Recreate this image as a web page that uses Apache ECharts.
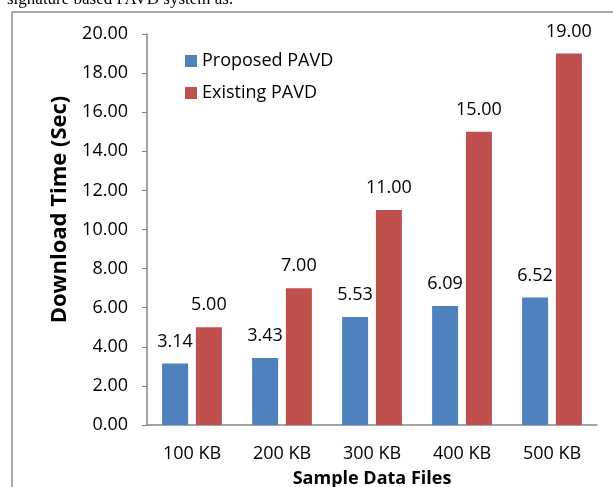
<!DOCTYPE html>
<html><head><meta charset="utf-8">
<script src="https://cdn.jsdelivr.net/npm/echarts@6/dist/echarts.min.js"></script>
<style>html,body{margin:0;padding:0;background:#fff}#c{width:613px;height:487px}</style>
</head><body><div id="c"></div>
<script>
const categories = ['100 KB','200 KB','300 KB','400 KB','500 KB'];
const proposed = [3.14, 3.43, 5.53, 6.09, 6.52];
const existing = [5.00, 7.00, 11.00, 15.00, 19.00];
const seriesNames = ['Proposed PAVD','Existing PAVD'];
const yTitle = 'Download Time (Sec)';
const xTitle = 'Sample Data Files';
const caption = 'signature based PAVD system as.';

const FONT = 'Open Sans';
const chart = echarts.init(document.getElementById('c'), null, {renderer:'canvas'});
const lbl = {show:true, position:'top', distance:13, color:'#000', fontFamily:FONT, fontSize:18,
  formatter: p => p.value.toFixed(2)};
chart.setOption({
  animation:false,
  backgroundColor:'#fff',
  graphic:[
    {type:'text', left:7, top:-9, style:{text:caption, fontFamily:'Liberation Serif', fontSize:17, fill:'#000'}},
    {type:'line', shape:{x1:12, y1:12, x2:613, y2:12}, style:{stroke:'#8c8c8c', lineWidth:1.5}},
    {type:'line', shape:{x1:12, y1:12, x2:12, y2:487}, style:{stroke:'#8c8c8c', lineWidth:1.5}}
  ],
  legend:{orient:'vertical', left:185, top:52, padding:0, itemWidth:12, itemHeight:12, itemGap:14,
    icon:'rect', textStyle:{fontFamily:FONT, fontSize:18, color:'#000'}, data:seriesNames},
  grid:{left:147, right:16, top:34, bottom:62, outerBoundsMode:'none', containLabel:false},
  xAxis:{type:'category', data:categories,
    axisLine:{lineStyle:{color:'#868686', width:1.5}}, axisTick:{show:false},
    axisLabel:{color:'#000', fontFamily:FONT, fontSize:18, margin:20},
    name:xTitle, nameLocation:'middle', nameGap:45,
    nameTextStyle:{fontFamily:FONT, fontSize:18, fontWeight:'bold', color:'#000'}},
  yAxis:{type:'value', min:0, max:20, interval:2,
    axisLine:{show:true, lineStyle:{color:'#868686', width:1.5}},
    axisTick:{show:true, length:5, lineStyle:{color:'#868686'}},
    splitLine:{show:false},
    axisLabel:{color:'#000', fontFamily:FONT, fontSize:18, margin:19, formatter:v=>v.toFixed(2)},
    name:yTitle, nameLocation:'middle', nameGap:76,
    nameTextStyle:{fontFamily:FONT, fontSize:22, fontWeight:'bold', color:'#000', padding:[0,0,0,40]}},
  series:[
    {name:seriesNames[0], type:'bar', data:proposed, barWidth:26, barGap:'30%',
      itemStyle:{color:'#4F81BD'}, label:lbl},
    {name:seriesNames[1], type:'bar', data:existing, barWidth:26, barGap:'30%',
      itemStyle:{color:'#C0504D'}, label:lbl}
  ]
});
</script></body></html>
